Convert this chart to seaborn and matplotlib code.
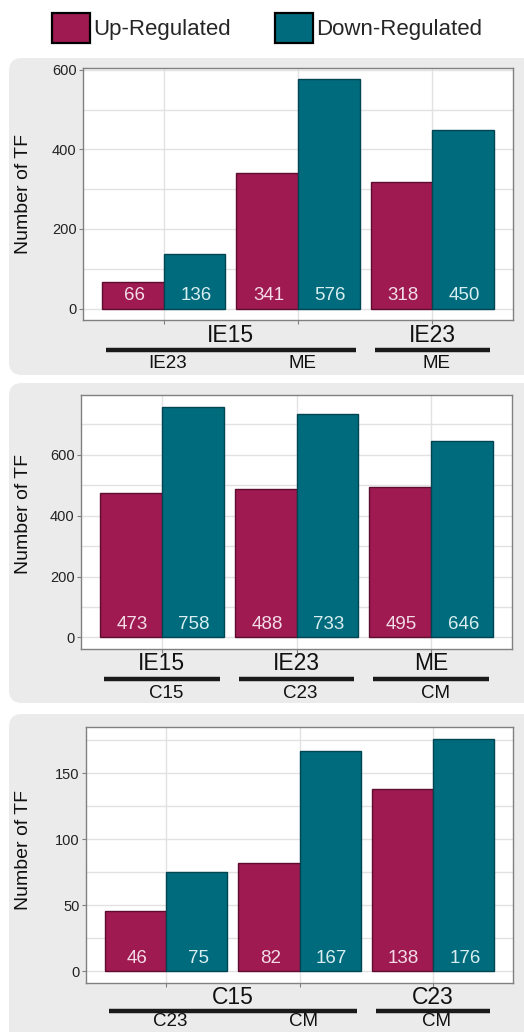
import matplotlib
matplotlib.use("Agg")
import matplotlib.pyplot as plt
from matplotlib.patches import FancyBboxPatch, Patch
from matplotlib.lines import Line2D
from matplotlib.ticker import FixedLocator
import seaborn as sns
import pandas as pd

# ---- data -------------------------------------------------------------
hue_levels = ["Up-Regulated", "Down-Regulated"]

p1_up = [66, 341, 318]
p1_down = [136, 576, 450]
p1_outer = ["IE15", "IE23"]
p1_outer_span = [(0, 1), (2, 2)]
p1_inner = ["IE23", "ME", "ME"]
p1_major = [0, 200, 400, 600]
p1_minor = [100, 300, 500]

p2_up = [473, 488, 495]
p2_down = [758, 733, 646]
p2_outer = ["IE15", "IE23", "ME"]
p2_outer_span = [(0, 0), (1, 1), (2, 2)]
p2_inner = ["C15", "C23", "CM"]
p2_major = [0, 200, 400, 600]
p2_minor = [100, 300, 500, 700]

p3_up = [46, 82, 138]
p3_down = [75, 167, 176]
p3_outer = ["C15", "C23"]
p3_outer_span = [(0, 1), (2, 2)]
p3_inner = ["C23", "CM", "CM"]
p3_major = [0, 50, 100, 150]
p3_minor = [25, 75, 125, 175]

# ---- style ------------------------------------------------------------
sns.set_style("white")
plt.rcParams["font.family"] = ["Liberation Sans", "DejaVu Sans"]

UP_COLOR = "#9e1a50"
DOWN_COLOR = "#006b7c"
UP_EDGE = "#5e0c2f"
DOWN_EDGE = "#004652"
UP_TEXT = "#f3dce7"
DOWN_TEXT = "#d8eef0"
PANEL_BG = "#ebebeb"
GRID = "#e2e2e2"
SPINE = "#808080"

W, H = 524, 1032
DPI = 100
fig = plt.figure(figsize=(W / DPI, H / DPI), dpi=DPI)
fig.patch.set_facecolor("white")

# rounded grey backdrops behind each panel (pixel coords, y from top)
backdrops = [(9, 58, 560, 375), (9, 383, 560, 703), (9, 714, 560, 1060)]
for x0, y0, x1, y1 in backdrops:
    fig.patches.append(FancyBboxPatch(
        (x0 / W, 1 - y1 / H), (x1 - x0) / W, (y1 - y0) / H,
        boxstyle="round,pad=0,rounding_size=0.025",
        mutation_aspect=W / H,
        transform=fig.transFigure, facecolor=PANEL_BG, edgecolor="none",
        zorder=-10))

# label offsets below the axes, in pixels: outer label, rule, inner label
panels = [
    dict(up=p1_up, down=p1_down, outer=p1_outer, span=p1_outer_span,
         inner=p1_inner, major=p1_major, minor=p1_minor,
         box=(83, 68, 513, 320), ylab_x=32.5, ylab_y=0.5,
         offs=(15, 30, 44)),
    dict(up=p2_up, down=p2_down, outer=p2_outer, span=p2_outer_span,
         inner=p2_inner, major=p2_major, minor=p2_minor,
         box=(81, 395, 512, 649), ylab_x=32.5, ylab_y=0.53,
         offs=(15, 30, 44)),
    dict(up=p3_up, down=p3_down, outer=p3_outer, span=p3_outer_span,
         inner=p3_inner, major=p3_major, minor=p3_minor,
         box=(86, 727, 513, 983), ylab_x=32.5, ylab_y=0.52,
         offs=(14, 27.5, 38.5)),
]

for p in panels:
    left, top, right, bottom = p["box"]
    ax = fig.add_axes([left / W, 1 - bottom / H, (right - left) / W,
                       (bottom - top) / H])
    ax_h = bottom - top
    ax_w = right - left

    n = len(p["up"])
    pos = [str(i) for i in range(n)]
    df = pd.DataFrame({
        "pair": pos * 2,
        "Regulation": [hue_levels[0]] * n + [hue_levels[1]] * n,
        "count": list(p["up"]) + list(p["down"]),
    })
    sns.barplot(data=df, x="pair", y="count", hue="Regulation",
                order=pos, hue_order=hue_levels,
                palette=[UP_COLOR, DOWN_COLOR], width=0.92, gap=0,
                saturation=1, linewidth=1.0, legend=False, ax=ax,
                zorder=3)

    for cont, edge, tcol, vals in zip(ax.containers, [UP_EDGE, DOWN_EDGE],
                                      [UP_TEXT, DOWN_TEXT],
                                      [p["up"], p["down"]]):
        for bar, v in zip(cont, vals):
            bar.set_edgecolor(edge)
            ax.annotate(str(v), xy=(bar.get_x() + bar.get_width() / 2, 0),
                        xytext=(1, 9.2), textcoords="offset points",
                        ha="center", va="center", fontsize=13.5,
                        color=tcol, zorder=5)

    ymax = max(max(p["up"]), max(p["down"]))
    ax.set_ylim(-0.05 * ymax, 1.05 * ymax)
    ax.set_xlim(-0.6, n - 1 + 0.6)
    ax.set_facecolor("white")

    ax.yaxis.set_major_locator(FixedLocator(p["major"]))
    ax.yaxis.set_minor_locator(FixedLocator(p["minor"]))
    ax.grid(True, which="major", axis="both", color=GRID, lw=1.0, zorder=0)
    ax.grid(True, which="minor", axis="y", color=GRID, lw=1.0, zorder=0)
    ax.set_axisbelow(True)

    for s in ax.spines.values():
        s.set_color(SPINE)
        s.set_linewidth(1.0)
        s.set_visible(True)

    ax.tick_params(axis="y", which="major", length=3, width=0.8,
                   color=SPINE, labelsize=10.5, labelcolor="#222222", pad=1.5,
                   left=True)
    ax.tick_params(axis="y", which="minor", length=0)
    ax.tick_params(axis="x", which="major", length=3, width=0.8,
                   color=SPINE, labelbottom=False, bottom=True)
    ax.set_xlabel("")
    ax.set_ylabel("Number of TF", fontsize=14, color="#111111")
    ax.yaxis.set_label_coords((p["ylab_x"] - left) / ax_w, p["ylab_y"])

    # two-level category labels under the axis
    o_lab, o_rule, o_inner = p["offs"]
    tr = ax.get_xaxis_transform()
    for label, (a, b) in zip(p["outer"], p["span"]):
        ax.text((a + b) / 2, -o_lab / ax_h, label, transform=tr, ha="center",
                va="center", fontsize=16.5, color="#111111", clip_on=False)
        ax.add_line(Line2D([a - 0.43, b + 0.43],
                           [-o_rule / ax_h, -o_rule / ax_h],
                           transform=tr, color="#1a1a1a", lw=3.2,
                           solid_capstyle="butt", clip_on=False))
    for i, label in enumerate(p["inner"]):
        ax.text(i + 0.03, -o_inner / ax_h, label, transform=tr, ha="center",
                va="center", fontsize=13.5, color="#111111", clip_on=False)

handles = [Patch(facecolor=UP_COLOR, edgecolor="black", linewidth=1.6),
           Patch(facecolor=DOWN_COLOR, edgecolor="black", linewidth=1.6)]
fig.legend(handles, hue_levels, loc="center", ncol=2, frameon=False,
           bbox_to_anchor=(267 / W, 1 - 28 / H), fontsize=16,
           handlelength=1.7, handleheight=1.7, handletextpad=0.15,
           columnspacing=2.0, borderpad=0)

fig.savefig("out.png", dpi=DPI)
